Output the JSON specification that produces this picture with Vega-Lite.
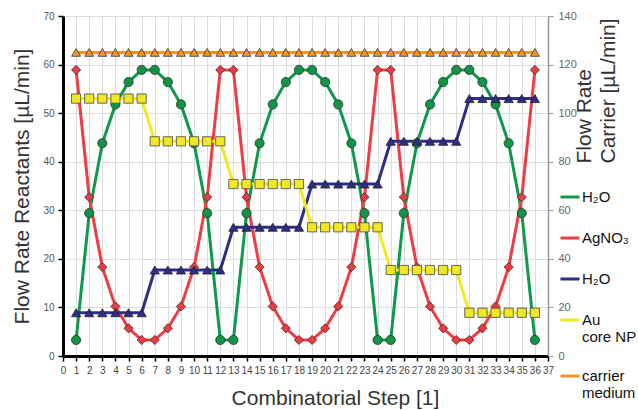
{
"$schema": "https://vega.github.io/schema/vega-lite/v6.json",
"width": 485,
"height": 340,
"autosize": {"type": "none"},
"padding": {"left": 63, "top": 16, "right": 90, "bottom": 54},
"config": {"view": {"stroke": null}, "font": "Liberation Sans"},
"data": {"values": [
{"step":1,"series":"a","value":3.3},{"step":2,"series":"a","value":29.4},{"step":3,"series":"a","value":43.8},{"step":4,"series":"a","value":51.8},{"step":5,"series":"a","value":56.4},{"step":6,"series":"a","value":58.9},{"step":7,"series":"a","value":58.9},{"step":8,"series":"a","value":56.4},{"step":9,"series":"a","value":51.8},{"step":10,"series":"a","value":43.8},{"step":11,"series":"a","value":29.4},{"step":12,"series":"a","value":3.3},
{"step":13,"series":"a","value":3.3},{"step":14,"series":"a","value":29.4},{"step":15,"series":"a","value":43.8},{"step":16,"series":"a","value":51.8},{"step":17,"series":"a","value":56.4},{"step":18,"series":"a","value":58.9},{"step":19,"series":"a","value":58.9},{"step":20,"series":"a","value":56.4},{"step":21,"series":"a","value":51.8},{"step":22,"series":"a","value":43.8},{"step":23,"series":"a","value":29.4},{"step":24,"series":"a","value":3.3},
{"step":25,"series":"a","value":3.3},{"step":26,"series":"a","value":29.4},{"step":27,"series":"a","value":43.8},{"step":28,"series":"a","value":51.8},{"step":29,"series":"a","value":56.4},{"step":30,"series":"a","value":58.9},{"step":31,"series":"a","value":58.9},{"step":32,"series":"a","value":56.4},{"step":33,"series":"a","value":51.8},{"step":34,"series":"a","value":43.8},{"step":35,"series":"a","value":29.4},{"step":36,"series":"a","value":3.3},
{"step":1,"series":"b","value":58.9},{"step":2,"series":"b","value":32.7},{"step":3,"series":"b","value":18.3},{"step":4,"series":"b","value":10.2},{"step":5,"series":"b","value":5.7},{"step":6,"series":"b","value":3.3},{"step":7,"series":"b","value":3.3},{"step":8,"series":"b","value":5.7},{"step":9,"series":"b","value":10.2},{"step":10,"series":"b","value":18.3},{"step":11,"series":"b","value":32.7},{"step":12,"series":"b","value":58.9},
{"step":13,"series":"b","value":58.9},{"step":14,"series":"b","value":32.7},{"step":15,"series":"b","value":18.3},{"step":16,"series":"b","value":10.2},{"step":17,"series":"b","value":5.7},{"step":18,"series":"b","value":3.3},{"step":19,"series":"b","value":3.3},{"step":20,"series":"b","value":5.7},{"step":21,"series":"b","value":10.2},{"step":22,"series":"b","value":18.3},{"step":23,"series":"b","value":32.7},{"step":24,"series":"b","value":58.9},
{"step":25,"series":"b","value":58.9},{"step":26,"series":"b","value":32.7},{"step":27,"series":"b","value":18.3},{"step":28,"series":"b","value":10.2},{"step":29,"series":"b","value":5.7},{"step":30,"series":"b","value":3.3},{"step":31,"series":"b","value":3.3},{"step":32,"series":"b","value":5.7},{"step":33,"series":"b","value":10.2},{"step":34,"series":"b","value":18.3},{"step":35,"series":"b","value":32.7},{"step":36,"series":"b","value":58.9},
{"step":1,"series":"c","value":8.9},{"step":2,"series":"c","value":8.9},{"step":3,"series":"c","value":8.9},{"step":4,"series":"c","value":8.9},{"step":5,"series":"c","value":8.9},{"step":6,"series":"c","value":8.9},
{"step":7,"series":"c","value":17.7},{"step":8,"series":"c","value":17.7},{"step":9,"series":"c","value":17.7},{"step":10,"series":"c","value":17.7},{"step":11,"series":"c","value":17.7},{"step":12,"series":"c","value":17.7},
{"step":13,"series":"c","value":26.5},{"step":14,"series":"c","value":26.5},{"step":15,"series":"c","value":26.5},{"step":16,"series":"c","value":26.5},{"step":17,"series":"c","value":26.5},{"step":18,"series":"c","value":26.5},
{"step":19,"series":"c","value":35.4},{"step":20,"series":"c","value":35.4},{"step":21,"series":"c","value":35.4},{"step":22,"series":"c","value":35.4},{"step":23,"series":"c","value":35.4},{"step":24,"series":"c","value":35.4},
{"step":25,"series":"c","value":44.2},{"step":26,"series":"c","value":44.2},{"step":27,"series":"c","value":44.2},{"step":28,"series":"c","value":44.2},{"step":29,"series":"c","value":44.2},{"step":30,"series":"c","value":44.2},
{"step":31,"series":"c","value":53.0},{"step":32,"series":"c","value":53.0},{"step":33,"series":"c","value":53.0},{"step":34,"series":"c","value":53.0},{"step":35,"series":"c","value":53.0},{"step":36,"series":"c","value":53.0},
{"step":1,"series":"d","value":53.0},{"step":2,"series":"d","value":53.0},{"step":3,"series":"d","value":53.0},{"step":4,"series":"d","value":53.0},{"step":5,"series":"d","value":53.0},{"step":6,"series":"d","value":53.0},
{"step":7,"series":"d","value":44.2},{"step":8,"series":"d","value":44.2},{"step":9,"series":"d","value":44.2},{"step":10,"series":"d","value":44.2},{"step":11,"series":"d","value":44.2},{"step":12,"series":"d","value":44.2},
{"step":13,"series":"d","value":35.4},{"step":14,"series":"d","value":35.4},{"step":15,"series":"d","value":35.4},{"step":16,"series":"d","value":35.4},{"step":17,"series":"d","value":35.4},{"step":18,"series":"d","value":35.4},
{"step":19,"series":"d","value":26.5},{"step":20,"series":"d","value":26.5},{"step":21,"series":"d","value":26.5},{"step":22,"series":"d","value":26.5},{"step":23,"series":"d","value":26.5},{"step":24,"series":"d","value":26.5},
{"step":25,"series":"d","value":17.7},{"step":26,"series":"d","value":17.7},{"step":27,"series":"d","value":17.7},{"step":28,"series":"d","value":17.7},{"step":29,"series":"d","value":17.7},{"step":30,"series":"d","value":17.7},
{"step":31,"series":"d","value":8.9},{"step":32,"series":"d","value":8.9},{"step":33,"series":"d","value":8.9},{"step":34,"series":"d","value":8.9},{"step":35,"series":"d","value":8.9},{"step":36,"series":"d","value":8.9},
{"step":1,"series":"e","value":125},{"step":2,"series":"e","value":125},{"step":3,"series":"e","value":125},{"step":4,"series":"e","value":125},{"step":5,"series":"e","value":125},{"step":6,"series":"e","value":125},{"step":7,"series":"e","value":125},{"step":8,"series":"e","value":125},{"step":9,"series":"e","value":125},{"step":10,"series":"e","value":125},{"step":11,"series":"e","value":125},{"step":12,"series":"e","value":125},
{"step":13,"series":"e","value":125},{"step":14,"series":"e","value":125},{"step":15,"series":"e","value":125},{"step":16,"series":"e","value":125},{"step":17,"series":"e","value":125},{"step":18,"series":"e","value":125},{"step":19,"series":"e","value":125},{"step":20,"series":"e","value":125},{"step":21,"series":"e","value":125},{"step":22,"series":"e","value":125},{"step":23,"series":"e","value":125},{"step":24,"series":"e","value":125},
{"step":25,"series":"e","value":125},{"step":26,"series":"e","value":125},{"step":27,"series":"e","value":125},{"step":28,"series":"e","value":125},{"step":29,"series":"e","value":125},{"step":30,"series":"e","value":125},{"step":31,"series":"e","value":125},{"step":32,"series":"e","value":125},{"step":33,"series":"e","value":125},{"step":34,"series":"e","value":125},{"step":35,"series":"e","value":125},{"step":36,"series":"e","value":125}
]},
"encoding": {
  "x": {"field": "step", "type": "quantitative",
    "scale": {"domain": [0, 37], "nice": false, "zero": false},
    "axis": {"values": [0,1,2,3,4,5,6,7,8,9,10,11,12,13,14,15,16,17,18,19,20,21,22,23,24,25,26,27,28,29,30,31,32,33,34,35,36,37],
      "labelFontSize": 10, "labelColor": "#444", "labelPadding": 4, "labelFlush": false, "labelOverlap": false,
      "tickColor": "#000", "tickSize": 5, "tickWidth": 1.5,
      "domainColor": "#000", "domainWidth": 3,
      "grid": true, "gridColor": "#dcdcdc", "gridWidth": 1,
      "title": "Combinatorial Step [1]", "titleFontSize": 21, "titleFontWeight": "normal", "titleColor": "#333",
      "titleX": 272, "titleY": 42, "titleBaseline": "middle", "titleAnchor": null}}
},
"layer": [
  {
    "transform": [{"filter": "datum.series != 'e'"}],
    "encoding": {
      "y": {"field": "value", "type": "quantitative",
        "scale": {"domain": [0, 70], "nice": false},
        "axis": {"orient": "left", "values": [0,10,20,30,40,50,60,70],
          "labelFontSize": 10, "labelColor": "#555", "labelPadding": 4,
          "tickColor": "#000", "tickSize": 5, "tickWidth": 1.5,
          "domainColor": "#000", "domainWidth": 3,
          "grid": true, "gridColor": "#dcdcdc", "gridWidth": 1,
          "title": "Flow Rate Reactants [µL/min]", "titleFontSize": 21, "titleFontWeight": "normal", "titleColor": "#333",
          "titlePadding": 10}}
    },
    "layer": [
      {"mark": {"type": "line", "strokeWidth": 3},
       "encoding": {
         "color": {"field": "series", "type": "nominal",
           "scale": {"domain": ["a","b","c","d","e"], "range": ["#0f9a4b","#ee3d44","#2e2e88","#f2ea1e","#f7941d"]},
           "legend": {"orient": "none", "legendX": 496, "legendY": 171, "padding": 0,
             "title": null, "symbolType": "stroke", "symbolSize": 360, "symbolStrokeWidth": 3,
             "clipHeight": 20, "rowPadding": 21, "symbolOffset": 0,
             "labelFontSize": 15, "labelColor": "#111", "labelOffset": 1, "labelLimit": 200,
             "labelExpr": "datum.value == 'a' ? 'H₂O' : datum.value == 'b' ? 'AgNO₃' : datum.value == 'c' ? 'H₂O' : datum.value == 'd' ? ['Au', 'core NP'] : ['carrier', 'medium']"}}}},
      {"transform": [{"filter": "datum.series == 'a'"}],
       "mark": {"type": "point", "shape": "circle", "filled": true, "fill": "#109445", "size": 85, "stroke": "#333", "strokeWidth": 0.8, "opacity": 1},
       "encoding": {}},
      {"transform": [{"filter": "datum.series == 'b'"}],
       "mark": {"type": "point", "shape": "diamond", "filled": true, "fill": "#ec3b42", "size": 85, "stroke": "#333", "strokeWidth": 0.8, "opacity": 1},
       "encoding": {}},
      {"transform": [{"filter": "datum.series == 'c'"}],
       "mark": {"type": "point", "shape": "triangle-up", "filled": true, "fill": "#2e2e88", "size": 85, "stroke": "#222", "strokeWidth": 0.8, "opacity": 1},
       "encoding": {}},
      {"transform": [{"filter": "datum.series == 'd'"}],
       "mark": {"type": "point", "shape": "square", "filled": true, "fill": "#f0e826", "size": 85, "stroke": "#444", "strokeWidth": 0.8, "opacity": 1},
       "encoding": {}}
    ]
  },
  {
    "transform": [{"filter": "datum.series == 'e'"}],
    "encoding": {
      "y": {"field": "value", "type": "quantitative",
        "scale": {"domain": [0, 140], "nice": false},
        "axis": {"orient": "right", "values": [0,20,40,60,80,100,120,140],
          "labelFontSize": 11, "labelColor": "#666", "labelPadding": 5,
          "tickColor": "#999", "tickSize": 5, "tickWidth": 1,
          "domainColor": "#999", "domainWidth": 1.5, "grid": false,
          "title": ["Flow Rate", "Carrier [µL/min]"], "titleFontSize": 21, "titleFontWeight": "normal", "titleColor": "#333",
          "titleAngle": 270, "titleAlign": "left", "titleBaseline": "top", "titleLineHeight": 24,
          "titleX": 25, "titleY": 147, "titleAnchor": null}}
    },
    "layer": [
      {"mark": {"type": "line", "strokeWidth": 3},
       "encoding": {"color": {"field": "series", "type": "nominal"}}},
      {"mark": {"type": "point", "filled": true, "size": 80, "stroke": "#333", "strokeWidth": 0.8, "opacity": 1, "shape": "triangle-up", "fill": "#f7941d"},
       "encoding": {}}
    ]
  }
],
"resolve": {"scale": {"y": "independent"}}
}
